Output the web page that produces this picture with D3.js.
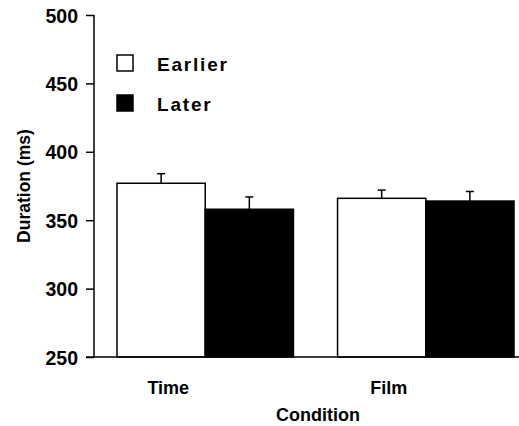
<!DOCTYPE html>
<html><head><meta charset="utf-8">
<script src="https://cdn.jsdelivr.net/npm/d3@7"></script>
<style>body{margin:0;background:#fff}svg{display:block}text{font-family:"Liberation Sans",Arial,Helvetica,sans-serif;font-weight:bold;fill:#000}</style>
</head><body><svg id="c" width="519" height="426"></svg>
<script>
const categories = ["Time", "Film"];
const seriesNames = ["Earlier", "Later"];
const earlier = [377, 366];
const later = [358, 364];
const earlierErr = [7, 6];
const laterErr = [9, 7];
const yTicks = [250, 300, 350, 400, 450, 500];
const colors = ["#fff", "#000"];

const svg = d3.select("#c");
const y = d3.scaleLinear().domain([250, 500]).range([357, 15]);
const x0 = d3.scaleBand().domain(categories).range([117, 514]).paddingInner(0.2).paddingOuter(0);
const x1 = d3.scaleBand().domain(seriesNames).range([0, x0.bandwidth()]).padding(0);

const data = [];
categories.forEach((c, i) => {
  data.push({cat: c, s: "Earlier", v: earlier[i], e: earlierErr[i]});
  data.push({cat: c, s: "Later", v: later[i], e: laterErr[i]});
});

// error bars
const eb = svg.append("g").attr("stroke", "#000").attr("stroke-width", 1.5);
data.forEach(d => {
  const cx = x0(d.cat) + x1(d.s) + x1.bandwidth() / 2;
  eb.append("line").attr("x1", cx).attr("x2", cx).attr("y1", y(d.v)).attr("y2", y(d.v + d.e));
  eb.append("line").attr("x1", cx - 4).attr("x2", cx + 4).attr("y1", y(d.v + d.e)).attr("y2", y(d.v + d.e));
});

// bars
svg.append("g").selectAll("rect").data(data).join("rect")
  .attr("x", d => x0(d.cat) + x1(d.s))
  .attr("y", d => y(d.v))
  .attr("width", x1.bandwidth())
  .attr("height", d => y(250) - y(d.v))
  .attr("fill", d => colors[seriesNames.indexOf(d.s)])
  .attr("stroke", "#000").attr("stroke-width", 1.5);

// y axis
const ya = svg.append("g").attr("transform", "translate(94,0)")
  .call(d3.axisLeft(y).tickValues(yTicks).tickSize(8).tickPadding(8));
ya.select(".domain").attr("stroke-width", 1.5).attr("d", "M0," + y(500) + "V" + y(250));
ya.selectAll(".tick line").attr("stroke-width", 1.5);
ya.selectAll("text").style("font-size", "19.5px").attr("dy", "0.36em");

// x baseline
svg.append("line").attr("x1", 86).attr("x2", 519).attr("y1", y(250)).attr("y2", y(250))
  .attr("stroke", "#000").attr("stroke-width", 1.5);

// category labels
svg.append("g").selectAll("text").data(categories).join("text")
  .attr("x", d => x0(d) + x0.bandwidth() / 2 - 37)
  .attr("y", 394)
  .attr("text-anchor", "middle")
  .style("font-size", "18px")
  .text(d => d);

svg.append("text").attr("x", 318).attr("y", 421).attr("text-anchor", "middle")
  .style("font-size", "18px").text("Condition");

svg.append("text").attr("transform", "translate(30,186) rotate(-90)")
  .attr("text-anchor", "middle").style("font-size", "17.5px").text("Duration (ms)");

// legend
const lg = svg.append("g");
seriesNames.forEach((s, i) => {
  const ly = 55 + i * 40;
  lg.append("rect").attr("x", 117).attr("y", ly).attr("width", 16).attr("height", 16)
    .attr("fill", colors[i]).attr("stroke", "#000").attr("stroke-width", 1.5);
  lg.append("text").attr("x", 157).attr("y", ly + 16).style("font-size", "19px")
    .style("letter-spacing", "1.8px").text(s);
});
</script></body></html>
